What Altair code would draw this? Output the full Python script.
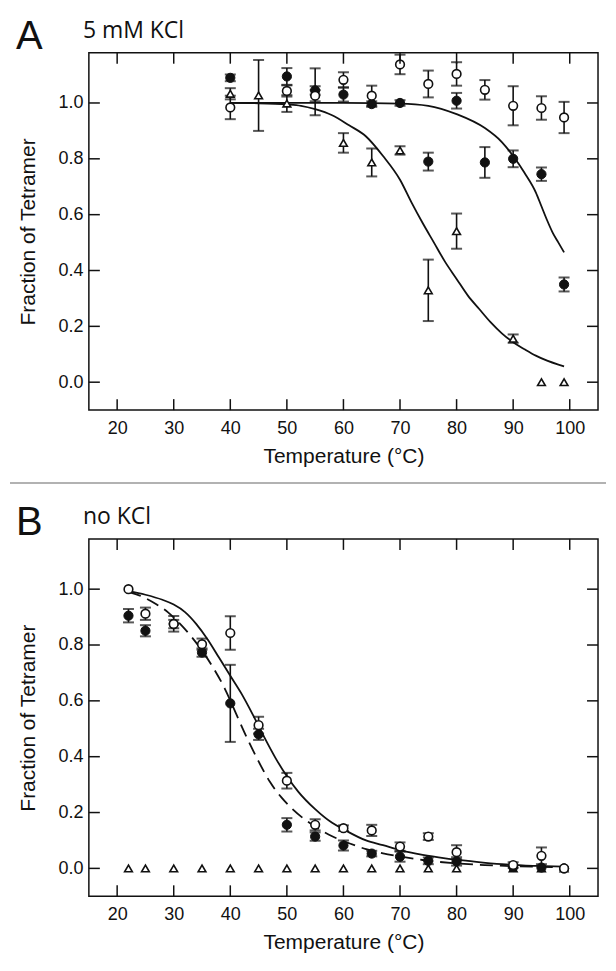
import altair as alt
import pandas as pd

# ---------------- Panel A (5 mM KCl) ----------------
A_open_T = [40, 50, 55, 60, 65, 70, 75, 80, 85, 90, 95, 99]
A_open_v = [0.984, 1.043, 1.026, 1.083, 1.026, 1.138, 1.068, 1.104, 1.047, 0.99, 0.982, 0.948]
A_open_e = [0.042, 0.02, 0.02, 0.027, 0.036, 0.035, 0.048, 0.042, 0.035, 0.07, 0.042, 0.056]

A_fill_T = [40, 50, 55, 60, 65, 70, 75, 80, 85, 90, 95, 99]
A_fill_v = [1.09, 1.095, 1.045, 1.03, 0.996, 1.0, 0.79, 1.008, 0.787, 0.80, 0.745, 0.35]
A_fill_e = [0.012, 0.03, 0.015, 0.025, 0.01, 0.01, 0.032, 0.028, 0.055, 0.03, 0.024, 0.025]

A_tri_T = [40, 45, 50, 55, 60, 65, 70, 75, 80, 90, 95, 99]
A_tri_v = [1.033, 1.027, 0.998, 1.04, 0.857, 0.787, 0.83, 0.329, 0.541, 0.156, 0.0, 0.0]
A_tri_e = [0.02, 0.127, 0.03, 0.084, 0.035, 0.05, 0.015, 0.11, 0.063, 0.015, 0.0, 0.0]

# fitted curves
A_fitR_T = [40, 50, 60, 70, 75, 80, 85, 88, 90, 92, 94, 95, 96, 97, 98, 99]
A_fitR_v = [1.0, 1.0, 1.0, 0.998, 0.99, 0.96, 0.91, 0.86, 0.81, 0.75, 0.68, 0.63, 0.58, 0.535, 0.50, 0.465]
A_fitL_T = [40, 45, 50, 52.5, 55, 58, 61, 64, 67, 70, 72, 74, 76, 78, 80, 82, 84, 86, 88, 90, 92, 94, 96, 98, 99]
A_fitL_v = [1.0, 0.999, 0.995, 0.99, 0.978, 0.956, 0.92, 0.88, 0.81, 0.725, 0.645, 0.57, 0.50, 0.43, 0.37,
            0.31, 0.262, 0.215, 0.175, 0.143, 0.118, 0.095, 0.077, 0.063, 0.057]

# ---------------- Panel B (no KCl) ----------------
B_open_T = [22, 25, 30, 35, 40, 45, 50, 55, 60, 65, 70, 75, 80, 90, 95, 99]
B_open_v = [1.0, 0.912, 0.875, 0.803, 0.843, 0.513, 0.314, 0.156, 0.144, 0.136, 0.078, 0.114, 0.058, 0.012, 0.045, 0.0]
B_open_e = [0.0, 0.022, 0.015, 0.02, 0.06, 0.03, 0.028, 0.02, 0.01, 0.02, 0.015, 0.012, 0.025, 0.01, 0.03, 0.0]

B_fill_T = [22, 25, 30, 35, 40, 45, 50, 55, 60, 65, 70, 75, 80, 90, 95, 99]
B_fill_v = [0.905, 0.851, 0.876, 0.773, 0.591, 0.48, 0.156, 0.114, 0.082, 0.053, 0.042, 0.027, 0.025, 0.005, 0.003, 0.0]
B_fill_e = [0.024, 0.02, 0.028, 0.015, 0.138, 0.02, 0.024, 0.015, 0.018, 0.01, 0.018, 0.012, 0.015, 0.0, 0.0, 0.0]

B_tri_T = [22, 25, 30, 35, 40, 45, 50, 55, 60, 65, 70, 75, 80, 90, 95, 99]
B_tri_v = [0.0] * 16
B_tri_e = [0.0] * 16

B_fitS_T = [22, 25, 28, 30, 32, 34, 36, 38, 40, 42, 44, 46, 48, 50, 52, 55, 58, 60, 64, 67, 70, 74, 78, 82, 88, 94, 99]
B_fitS_v = [0.993, 0.98, 0.962, 0.945, 0.918, 0.875, 0.82, 0.755, 0.69, 0.625, 0.55, 0.47, 0.395, 0.33, 0.275,
            0.212, 0.163, 0.14, 0.10, 0.083, 0.065, 0.048, 0.036, 0.027, 0.015, 0.009, 0.006]
B_fitD_T = [22, 25, 27, 29, 31, 33, 35, 37, 39, 41, 43, 45, 47, 49, 51, 55, 58, 61, 64, 67, 70, 74, 80, 85, 90, 99]
B_fitD_v = [0.99, 0.968, 0.945, 0.917, 0.878, 0.833, 0.78, 0.718, 0.645, 0.555, 0.465, 0.383, 0.31, 0.255, 0.212,
            0.15, 0.115, 0.09, 0.069, 0.054, 0.043, 0.03, 0.018, 0.012, 0.008, 0.004]

x_ticks = [20, 30, 40, 50, 60, 70, 80, 90, 100]
y_ticks = [0.0, 0.2, 0.4, 0.6, 0.8, 1.0]

W, H = 510, 358
TICK = 11
FONT = "Liberation Sans"


def X(field="T"):
    return alt.X(f"{field}:Q",
                 scale=alt.Scale(domain=[15, 105], nice=False, zero=False),
                 axis=alt.Axis(values=x_ticks, ticks=False, domain=False, grid=False,
                               labelFontSize=18, labelPadding=9, labelFont=FONT, labelColor="#111",
                               title="Temperature (°C)", titleFontSize=21, titleFont=FONT,
                               titleFontWeight="normal", titlePadding=8, titleColor="#111"))


def Y(field="v"):
    return alt.Y(f"{field}:Q",
                 scale=alt.Scale(domain=[-0.1, 1.18], nice=False, zero=False),
                 axis=alt.Axis(values=y_ticks, format=".1f", ticks=False, domain=False, grid=False,
                               labelFontSize=18, labelPadding=6, labelFont=FONT, labelColor="#111",
                               title="Fraction of Tetramer", titleFontSize=21, titleFont=FONT,
                               titleFontWeight="normal", titlePadding=19, titleColor="#111"))


def series_df(T, v, e):
    df = pd.DataFrame({"T": T, "v": v, "e": e})
    df["lo"] = df["v"] - df["e"]
    df["hi"] = df["v"] + df["e"]
    return df


def err_layers(df):
    d = df[df["e"] > 0]
    bar = alt.Chart(d).mark_rule(color="#111", strokeWidth=1.6).encode(
        x=X(), y=Y("lo"), y2="hi")
    cap_lo = alt.Chart(d).mark_tick(color="#111", orient="horizontal", size=11, thickness=2).encode(
        x=X(), y=Y("lo"))
    cap_hi = alt.Chart(d).mark_tick(color="#111", orient="horizontal", size=11, thickness=2).encode(
        x=X(), y=Y("hi"))
    return [bar, cap_lo, cap_hi]


def panel(open_s, fill_s, tri_s, curves, letter, label, divider=False):
    layers = []
    for (T, v, dash) in curves:
        c = alt.Chart(pd.DataFrame({"T": T, "v": v})).mark_line(
            color="#111", strokeWidth=1.8, interpolate="monotone",
            **({"strokeDash": [13, 7]} if dash else {})).encode(x=X(), y=Y(), order="T:Q")
        layers.append(c)
    dfs = [series_df(*tri_s), series_df(*fill_s), series_df(*open_s)]
    for d in dfs:
        layers += err_layers(d)
    layers.append(alt.Chart(dfs[0]).mark_point(shape="triangle-up", filled=True, fill="white",
                                               stroke="#111", strokeWidth=1.6, size=60, opacity=1)
                  .encode(x=X(), y=Y()))
    layers.append(alt.Chart(dfs[1]).mark_point(shape="circle", filled=True, fill="#111",
                                               stroke="#111", strokeWidth=1, size=85, opacity=1)
                  .encode(x=X(), y=Y()))
    layers.append(alt.Chart(dfs[2]).mark_point(shape="circle", filled=True, fill="white",
                                               stroke="#111", strokeWidth=1.6, size=75, opacity=1)
                  .encode(x=X(), y=Y()))
    # inward tick marks on all four sides
    xt = pd.DataFrame({"T": x_ticks})
    yt = pd.DataFrame({"v": y_ticks})
    layers.append(alt.Chart(xt).mark_rule(color="#111", strokeWidth=1.5).encode(
        x=X(), y=alt.value(H), y2=alt.value(H - TICK)))
    layers.append(alt.Chart(xt).mark_rule(color="#111", strokeWidth=1.5).encode(
        x=X(), y=alt.value(0), y2=alt.value(TICK)))
    layers.append(alt.Chart(yt).mark_rule(color="#111", strokeWidth=1.5).encode(
        y=Y(), x=alt.value(0), x2=alt.value(TICK)))
    layers.append(alt.Chart(yt).mark_rule(color="#111", strokeWidth=1.5).encode(
        y=Y(), x=alt.value(W), x2=alt.value(W - TICK)))
    # panel letter and condition label
    lab = pd.DataFrame({"letter": [letter], "label": [label]})
    layers.append(alt.Chart(lab).mark_text(font=FONT, fontSize=40, align="left",
                                           baseline="alphabetic", color="#111").encode(
        text="letter:N", x=alt.value(-73), y=alt.value(-4)))
    layers.append(alt.Chart(lab).mark_text(font="Open Sans", fontSize=23, align="left",
                                           baseline="alphabetic", color="#111").encode(
        text="label:N", x=alt.value(-6), y=alt.value(-15)))
    if divider:
        layers.append(alt.Chart(lab).mark_rule(color="#999", strokeWidth=1.5).encode(
            x=alt.value(-79), x2=alt.value(W + 8), y=alt.value(H + 73)))
    return alt.layer(*layers).properties(width=W, height=H)


pA = panel((A_open_T, A_open_v, A_open_e), (A_fill_T, A_fill_v, A_fill_e), (A_tri_T, A_tri_v, A_tri_e),
           [(A_fitR_T, A_fitR_v, False), (A_fitL_T, A_fitL_v, False)], "A", "5 mM KCl", divider=True)
pB = panel((B_open_T, B_open_v, B_open_e), (B_fill_T, B_fill_v, B_fill_e), (B_tri_T, B_tri_v, B_tri_e),
           [(B_fitS_T, B_fitS_v, False), (B_fitD_T, B_fitD_v, True)], "B", "no KCl")

chart = alt.vconcat(pA, pB, spacing=129, bounds="flush").properties(
    padding={"left": 0, "top": 7, "right": 0, "bottom": 0},
    background="white"
).configure_view(stroke="#111", strokeWidth=1.5)

chart.save("out.html", embed_options={"renderer": "svg", "actions": False})
